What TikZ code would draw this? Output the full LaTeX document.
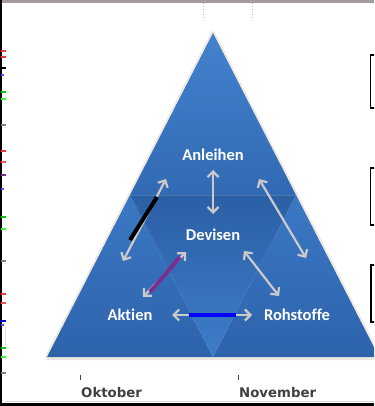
\documentclass[tikz,border=0pt]{standalone}
\usepackage{fontspec}
\setmainfont{Carlito}[Ligatures=NoCommon]
\newfontfamily\axisfont{DejaVu Sans}
\usetikzlibrary{arrows.meta,calc}
\definecolor{triTop}{HTML}{4382CE}
\definecolor{triMid}{HTML}{316AB3}
\definecolor{midTop}{HTML}{2B5FA5}
\definecolor{midBot}{HTML}{3E7DC9}
\definecolor{cornTop}{HTML}{3B78C4}
\definecolor{cornBot}{HTML}{2D63AB}
\definecolor{edgeglow}{HTML}{EFE9E1}
\definecolor{arrgray}{HTML}{CACACA}
\definecolor{axisgray}{HTML}{404040}
\definecolor{purp}{HTML}{7A2E90}
\definecolor{framegray}{HTML}{A39C9C}
\tikzset{
  lab/.style={text=white,font=\bfseries\fontsize{16.5}{16.5}\selectfont,inner sep=0pt},
  axislab/.style={text=axisgray,font=\axisfont\bfseries\fontsize{13.3}{14}\selectfont,inner sep=0pt,anchor=base west},
  dbl/.style={draw=arrgray,line width=2.2pt,{Straight Barb[length=5.5pt,width=11pt]}-{Straight Barb[length=5.5pt,width=11pt]}},
  hiline/.style={line width=4pt},
  tickmk/.style={line width=1.3pt},
  brk/.style={draw=black,line width=1.6pt},
}
\begin{document}
\begin{tikzpicture}[x=1pt,y=-1pt]
\useasboundingbox (0,0) rectangle (374,406);
\fill[white] (0,0) rectangle (374,406);
\begin{scope}
\clip (0,0) rectangle (374,406);
% frame
\fill[framegray] (0,0) rectangle (374,3);
\fill[black] (0,0) rectangle (1.6,406);
\fill[black] (0,403) rectangle (374,406);
\fill[black!15] (5,400.5) rectangle (374,402);
% dotted top lines
\draw[black!25,dotted,line width=0.8pt] (203,3) -- (203,18);
\draw[black!25,dotted,line width=0.8pt] (252,3) -- (252,18);
% left ticks
\draw[tickmk,red!80] (1,51) -- (6,51);
\draw[tickmk,red!80] (1,57) -- (6,57);
\draw[tickmk,black] (1,68) -- (6,68);
\draw[tickmk,blue!70] (1,75) -- (3.5,75);
\draw[tickmk,green!80!black] (1,92) -- (6,92);
\draw[tickmk,green!80] (1,99) -- (6,99);
\draw[tickmk,gray] (1,125) -- (6,125);
\draw[tickmk,red!80] (1,151) -- (6,151);
\draw[tickmk,red!70] (1,162) -- (6,162);
\draw[line width=2pt,purp] (1,175) -- (6,175);
\draw[tickmk,blue!70] (1,189) -- (3.5,189);
\draw[tickmk,green!80!black] (1,217) -- (6,217);
\draw[tickmk,green!80] (1,229) -- (6,229);
\draw[tickmk,gray] (1,261) -- (6,261);
\draw[tickmk,red!80] (1,294) -- (6,294);
\draw[tickmk,red!70] (1,303) -- (6,303);
\draw[line width=1.8pt,blue] (1,321) -- (6,321);
\draw[tickmk,blue!70] (1,325) -- (3.5,325);
\draw[black!12,line width=1pt] (5.5,327) -- (5.5,346);
\draw[tickmk,green!80!black] (1,348) -- (6,348);
\draw[tickmk,green!80] (1,357) -- (6,357);
\draw[tickmk,gray] (1,373) -- (6,373);
% brackets
\draw[brk] (375,55) -- (370.5,55) -- (370.5,108) -- (375,108);
\draw[brk] (375,168) -- (370.5,168) -- (370.5,225) -- (375,225);
\draw[brk,line width=2.2pt] (375,265) -- (371,265) -- (371,322) -- (375,322);
% triangle
\coordinate (A) at (213,33);
\coordinate (L) at (47,357);
\coordinate (R) at (379,357);
\coordinate (ML) at (130,195);
\coordinate (MR) at (296,195);
\coordinate (MB) at (213,357);
\fill[black!10] ($(A)+(0,2)$) -- ($(L)+(-1,3)$) -- ($(R)+(1,3)$) -- cycle;
\draw[edgeglow,line width=4pt,line join=round] (A) -- (L) -- (R) -- cycle;
\shade[top color=triTop,bottom color=triMid] (A) -- (ML) -- (MR) -- cycle;
\shade[top color=cornTop,bottom color=cornBot] (ML) -- (L) -- (MB) -- cycle;
\shade[top color=cornTop,bottom color=cornBot] (MR) -- (MB) -- (R) -- cycle;
\shade[top color=midTop,bottom color=midBot] (ML) -- (MR) -- (MB) -- cycle;
\draw[white,opacity=0.15,line width=0.6pt] (ML) -- (MR);
\end{scope}
% labels
\node[lab] (anl) at (213,155) {Anleihen};
\node[lab] (dev) at (213,235) {Devisen};
\node[lab] (akt) at (130,315) {Aktien};
\node[lab] (roh) at (297,315) {Rohstoffe};
% arrow ends
\coordinate (v1) at (213,170); \coordinate (v2) at (213,214);
\coordinate (l1) at (123,261); \coordinate (l2) at (166,179);
\coordinate (r1) at (259,179); \coordinate (r2) at (306,258);
\coordinate (da1) at (143,297); \coordinate (da2) at (186,252);
\coordinate (dr1) at (244,251); \coordinate (dr2) at (279,296);
\coordinate (ar1) at (172,315); \coordinate (ar2) at (252,315);
\draw[dbl] (v1) -- (v2);
\draw[dbl] (l1) -- (l2);
\draw[dbl] (r1) -- (r2);
\draw[dbl] (da1) -- (da2);
\draw[dbl] (dr1) -- (dr2);
\draw[dbl] (ar1) -- (ar2);
% overlay lines
\coordinate (k1) at (130,240); \coordinate (k2) at (157,197);
\coordinate (p1) at (150,292); \coordinate (p2) at (180,257);
\coordinate (b1) at (189,315); \coordinate (b2) at (236,315);
\draw[hiline,black] (k1) -- (k2);
\draw[hiline,purp] (p1) -- (p2);
\draw[hiline,blue] (b1) -- (b2);
% axis
\draw[axisgray,line width=0.8pt] (80.5,375) -- (80.5,379.5);
\draw[axisgray,line width=0.8pt] (238.5,375) -- (238.5,379.5);
\node[axislab] (okt) at (81,397) {Oktober};
\node[axislab] (nov) at (239,397) {November};
\end{tikzpicture}
\end{document}
